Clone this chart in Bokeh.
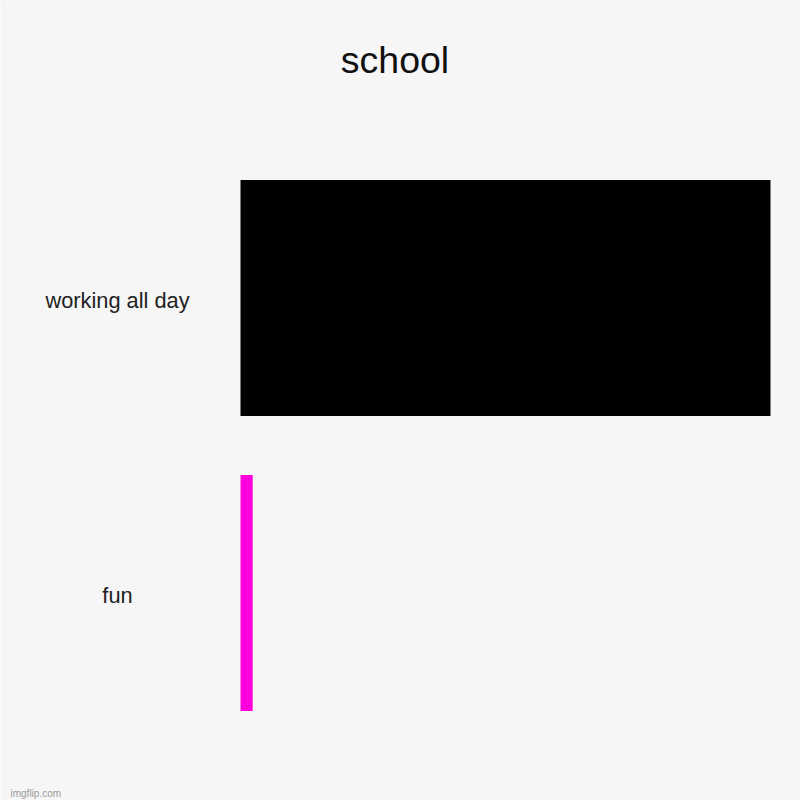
from bokeh.plotting import figure
from bokeh.models import Range1d, FactorRange, ColumnDataSource, Label
from bokeh.transform import dodge
from bokeh.core.properties import value
from bokeh.embed import file_html
from bokeh.resources import INLINE

categories = ["working all day", "fun"]
values = [100, 2.3]
colors = ["#000000", "#ff00dd"]
title_text = "school"
watermark = "imgflip.com"

W, H = 800, 800
# layout in canvas pixels (frame == canvas)
x0_px, x100_px = 240, 770          # where value 0 and value 100 sit
band_px = 295                        # height of one category band
band_top_px = 150                    # top of the upper band (from top)
label_cx = 117                       # centre of the category labels

scale = (x100_px - x0_px) / 100.0
x_start = -x0_px / scale
x_end = 100 + (W - x100_px) / scale

n = len(categories)
pad_side = (H / band_px - n) / 2     # absolute padding per side, in band units
# symmetric padding puts the top band at pad_side*band_px; shift it to band_top_px
shift = -(band_top_px - pad_side * band_px) / band_px

src = ColumnDataSource(dict(cat=categories, val=values, color=colors,
                            lx=[(label_cx - x0_px) / scale] * n))

yr = FactorRange(factors=list(reversed(categories)), range_padding=pad_side,
                 range_padding_units="absolute")
p = figure(width=W, height=H, output_backend="svg", toolbar_location=None,
           title_location=None,
           x_range=Range1d(x_start, x_end), y_range=yr,
           min_border_left=0, min_border_right=0, min_border_top=0, min_border_bottom=0)
p.background_fill_color = "#f6f6f6"
p.border_fill_color = "#f6f6f6"
p.outline_line_color = None
p.xgrid.visible = False
p.ygrid.visible = False
p.xaxis.visible = False
p.yaxis.visible = False

p.hbar(y=dodge("cat", shift, range=yr), right="val", left=0, height=0.8,
       color="color", line_color=None, source=src)
p.text(x="lx", y=dodge("cat", shift, range=yr), text="cat", source=src,
       text_align="center", text_baseline="alphabetic", y_offset=2,
       text_font=value("Liberation Sans"), text_font_size="21.8px", text_color="#222222")

p.add_layout(Label(x=394.5, y=H - 59, x_units="screen", y_units="screen",
                   text=title_text, text_align="center", text_baseline="alphabetic",
                   text_font="Liberation Sans", text_font_size="37.5px", text_color="#111111"))
p.add_layout(Label(x=10, y=H - 793, x_units="screen", y_units="screen",
                   text=watermark, text_align="left", text_baseline="alphabetic",
                   text_font="Liberation Sans", text_font_size="10px", text_color="#9a9a9a"))

open("out.html", "w").write(file_html(p, INLINE))
